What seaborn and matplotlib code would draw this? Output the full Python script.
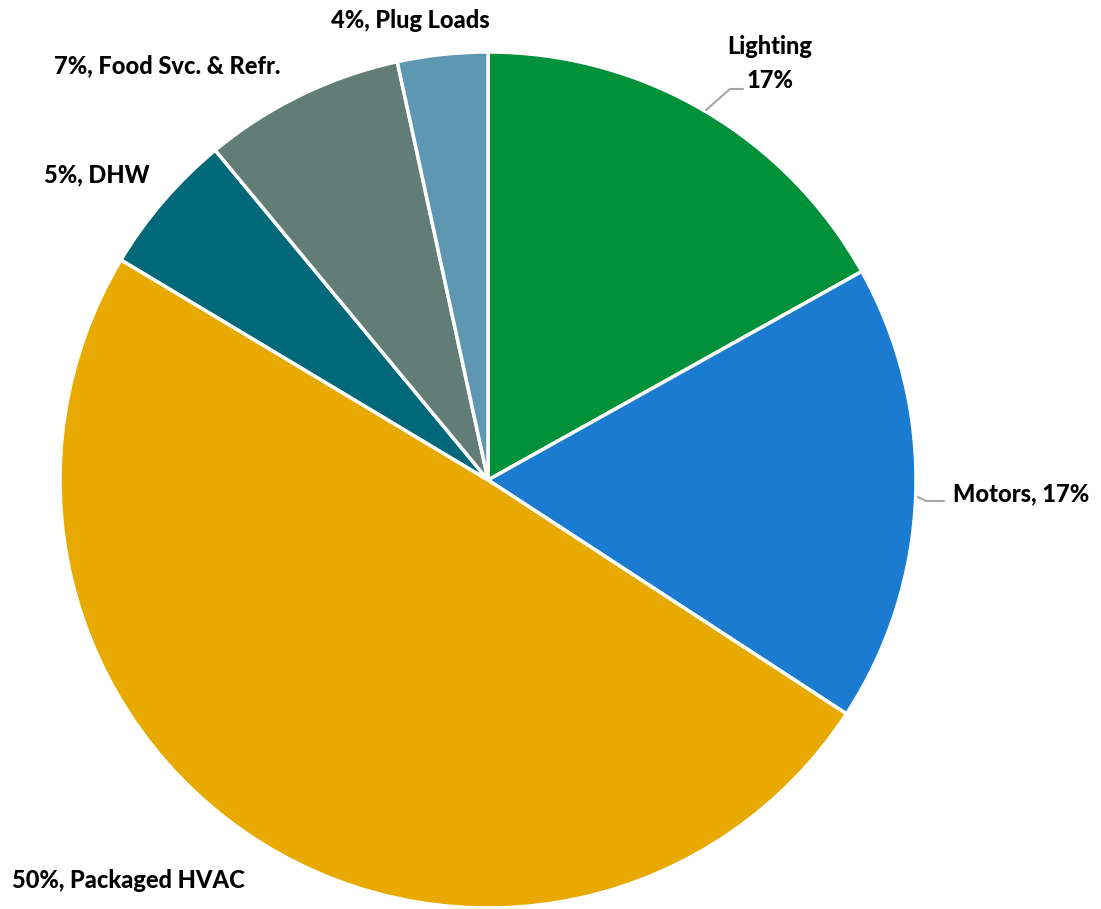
import matplotlib
matplotlib.use("Agg")
import matplotlib.pyplot as plt
import seaborn as sns

categories = ["Lighting", "Motors", "Packaged HVAC", "DHW", "Food Svc. & Refr.", "Plug Loads"]
values = [16.9, 17.3, 49.4, 5.4, 7.6, 3.4]
pct_labels = ["17%", "17%", "50%", "5%", "7%", "4%"]
colors = ["#009139", "#1A7BD1", "#E8AA00", "#006878", "#627D75", "#5D97B2"]

sns.set_theme(style="white")
plt.rcParams['font.family'] = ['Lato', 'DejaVu Sans']

W, H = 1101, 909
fig = plt.figure(figsize=(W / 100, H / 100), dpi=100)
ax = fig.add_axes([0, 0, 1, 1])

cx, cy, r = 488, H - 480, 428
ax.pie(values, colors=colors, startangle=90, counterclock=False,
       center=(cx, cy), radius=r, frame=True,
       wedgeprops=dict(edgecolor="white", linewidth=2.5))
ax.set_xlim(0, W)
ax.set_ylim(0, H)
ax.set_aspect("equal")
ax.axis("off")

fs = 17
kw = dict(fontsize=fs, fontweight=900, color="black")

def y(v):
    return H - v

# Lighting (two lines)
ax.text(770, y(47), categories[0], ha="center", va="center", **kw)
ax.text(770, y(80), pct_labels[0], ha="center", va="center", **kw)
ax.plot([706, 730, 743], [y(110), y(89), y(89)], color="#A6A6A6", lw=1.5)

# Motors
ax.text(953, y(494), f"{categories[1]}, {pct_labels[1]}", ha="left", va="center", **kw)
ax.plot([918, 926, 944], [y(497), y(501), y(501)], color="#A6A6A6", lw=1.5)

# Packaged HVAC
ax.text(12, y(880), f"{pct_labels[2]}, {categories[2]}", ha="left", va="center", **kw)
# DHW
ax.text(44, y(175), f"{pct_labels[3]}, {categories[3]}", ha="left", va="center", **kw)
# Food
ax.text(54, y(66), f"{pct_labels[4]}, {categories[4]}", ha="left", va="center", **kw)
# Plug
ax.text(331, y(20), f"{pct_labels[5]}, {categories[5]}", ha="left", va="center", **kw)

fig.savefig("out.png", dpi=100, facecolor="white")
